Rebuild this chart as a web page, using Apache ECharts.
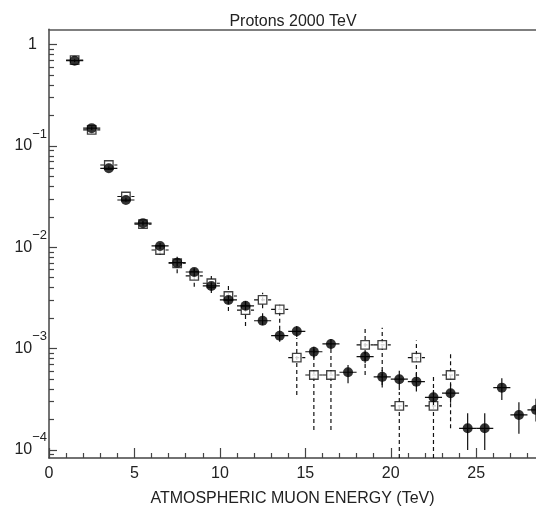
<!DOCTYPE html>
<html><head><meta charset="utf-8">
<script src="https://cdn.jsdelivr.net/npm/echarts@6/dist/echarts.min.js"></script>
<style>html,body{margin:0;padding:0;background:#fff}#c{width:536px;height:518px}</style>
</head><body><div id="c"></div>
<script>
// Bin centres (TeV)
const bins = [1.5,2.5,3.5,4.5,5.5,6.5,7.5,8.5,9.5,10.5,11.5,12.5,13.5,14.5,15.5,16.5,17.5,18.5,19.5,20.5,21.5,22.5,23.5,24.5,25.5,26.5,27.5,28.5];
// Filled circles
const circVal = [0.695,0.150,0.0602,0.0293,0.0173,0.0103,0.00705,0.0057,0.00415,0.00302,0.00264,0.00188,0.00134,0.00148,0.00093,0.00111,0.000583,0.000832,0.000525,0.000498,0.000471,0.00033,0.000362,0.000163,0.000163,0.000411,0.000221,0.000248];
const circLo  = [0.67,0.144,0.0578,0.0281,0.0164,0.0096,0.0065,0.0052,0.0038,0.00275,0.0024,0.00171,0.00117,0.0013,0.000802,0.00099,0.000454,0.000716,0.000413,0.00039,0.000376,0.000277,0.000292,0.0000998,0.0000998,0.000311,0.000144,0.00019];
const circHi  = [0.72,0.156,0.0626,0.0305,0.0182,0.011,0.0076,0.0062,0.0045,0.0033,0.0029,0.00223,0.00153,0.00167,0.00104,0.00124,0.000689,0.00093,0.000615,0.000605,0.000574,0.00039,0.000447,0.00023,0.00023,0.000509,0.000295,0.00032];
// Open squares
const sqVal = [0.706,0.144,0.0649,0.0317,0.0169,0.0094,0.00695,0.00521,0.00441,0.0033,0.0024,0.00302,0.00244,0.000813,0.000548,0.000548,null,0.001086,0.001086,0.000271,0.000813,0.000271,0.000548,null,null,null,null,null];
const sqLo  = [0.68,0.138,0.062,0.030,0.0160,0.0084,0.00554,0.00408,0.00354,0.00235,0.00167,0.0025,0.00153,0.000348,0.000157,0.000157,null,0.000548,0.000437,0.00005,0.000457,0.00005,0.000163,null,null,null,null,null];
const sqHi  = [0.73,0.150,0.068,0.0333,0.0178,0.01054,0.00807,0.00615,0.00521,0.00425,0.00316,0.00356,0.00288,0.00127,0.00101,0.00104,null,0.0016,0.0016,0.000373,0.0012,0.000548,0.00093,null,null,null,null,null];
// Tick labels
const xTicks = [0,5,10,15,20,25];
const yDecades = [1e-4,1e-3,1e-2,1e-1,1];

const X_MAX = 28.5;
const Y_MIN = 8.3e-5, Y_MAX = 1.42;
const FONT = 'Liberation Sans';

function rows(v, lo, hi){
  const out=[];
  for(let i=0;i<bins.length;i++){ if(v[i]!=null) out.push([bins[i],v[i],lo[i],hi[i]]); }
  return out;
}
const circData = rows(circVal,circLo,circHi);
const sqData = rows(sqVal,sqLo,sqHi);

const minorVals=[];
for(let k=-5;k<=0;k++){ for(let m=2;m<=9;m++){ const v=m*Math.pow(10,k); if(v>Y_MIN && v<Y_MAX) minorVals.push(v);} }
const xMinor=[];
for(let i=0;i<=X_MAX;i++){ if(i%5!==0) xMinor.push(i); }

function errRender(dashed){
  return function(params, api){
    const x=api.value(0), y=api.value(1);
    const lo=Math.max(api.value(2),Y_MIN), hi=Math.min(api.value(3),Y_MAX);
    const pl=api.coord([x,lo]), ph=api.coord([x,hi]);
    const a=api.coord([x-0.5,y]), b=api.coord([x+0.5,y]);
    const st={stroke:'#111',lineWidth:1.2,lineDash:dashed?[4,3]:null};
    return {type:'group',children:[
      {type:'line',shape:{x1:pl[0],y1:pl[1],x2:ph[0],y2:ph[1]},style:st},
      {type:'line',shape:{x1:a[0],y1:a[1],x2:b[0],y2:b[1]},style:st}
    ]};
  };
}

function yLabel(v){
  const e=Math.round(Math.log10(v));
  if(e===0) return '{n|1}{pad|}';
  return '{n|10}{s|\u2212'+Math.abs(e)+'}';
}

const axisCol='#444';
const chart=echarts.init(document.getElementById('c'),null,{renderer:'canvas'});
chart.setOption({
  animation:false,
  backgroundColor:'#fff',
  title:{text:'Protons 2000 TeV',left:288,top:9,textAlign:'center',
    textStyle:{fontFamily:FONT,fontSize:16,fontWeight:'normal',color:'#222'}},
  grid:{left:49,top:29.3,right:0,bottom:60,show:false},
  xAxis:[{type:'value',min:0,max:X_MAX,position:'bottom',
    name:'ATMOSPHERIC MUON ENERGY (TeV)',nameLocation:'middle',nameGap:33,
    nameTextStyle:{fontFamily:FONT,fontSize:16,color:'#222',verticalAlign:'top'},
    axisLine:{show:true,lineStyle:{color:axisCol,width:1.5}},
    axisTick:{show:true,inside:true,length:10,customValues:xTicks,lineStyle:{color:axisCol,width:1.2}},
    axisLabel:{fontFamily:FONT,fontSize:16,color:'#222',margin:8,customValues:xTicks},
    splitLine:{show:false}},
   {type:'value',min:0,max:X_MAX,position:'bottom',offset:0,
    axisLine:{show:false},
    axisTick:{show:true,inside:true,length:5,customValues:xMinor,lineStyle:{color:axisCol,width:1.2}},
    axisLabel:{show:false},splitLine:{show:false}},
   {type:'value',min:0,max:X_MAX,position:'top',
    axisLine:{show:true,lineStyle:{color:'#555',width:1.5}},
    axisTick:{show:false},axisLabel:{show:false},splitLine:{show:false}}],
  yAxis:[{type:'log',logBase:10,min:Y_MIN,max:Y_MAX,position:'left',
    axisLine:{show:true,lineStyle:{color:axisCol,width:1.5}},
    axisTick:{show:true,inside:true,length:8,customValues:yDecades,lineStyle:{color:axisCol,width:1.2}},
    axisLabel:{customValues:yDecades,margin:2,formatter:yLabel,
      rich:{n:{fontFamily:FONT,fontSize:16,color:'#222'},
            s:{fontFamily:FONT,fontSize:13,color:'#222',padding:[0,0,24,0]},
            pad:{width:10}}},
    splitLine:{show:false}},
   {type:'log',logBase:10,min:Y_MIN,max:Y_MAX,position:'left',offset:0,
    axisLine:{show:false},
    axisTick:{show:true,inside:true,length:5,customValues:minorVals,lineStyle:{color:axisCol,width:1.2}},
    axisLabel:{show:false},splitLine:{show:false}}],
  series:[
    {type:'custom',name:'sqErr',renderItem:errRender(true),data:sqData,clip:true,encode:{x:0,y:1},z:2},
    {type:'scatter',name:'squares',data:sqData.map(r=>[r[0],r[1]]),symbol:'rect',symbolSize:8.5,
      itemStyle:{color:'#fff',borderColor:'#111',borderWidth:1.3},z:3},
    {type:'custom',name:'circErr',renderItem:errRender(false),data:circData,clip:true,encode:{x:0,y:1},z:4},
    {type:'scatter',name:'circles',data:circData.map(r=>[r[0],r[1]]),symbol:'circle',symbolSize:10,
      itemStyle:{color:'#000'},z:5}
  ]
});
</script></body></html>
